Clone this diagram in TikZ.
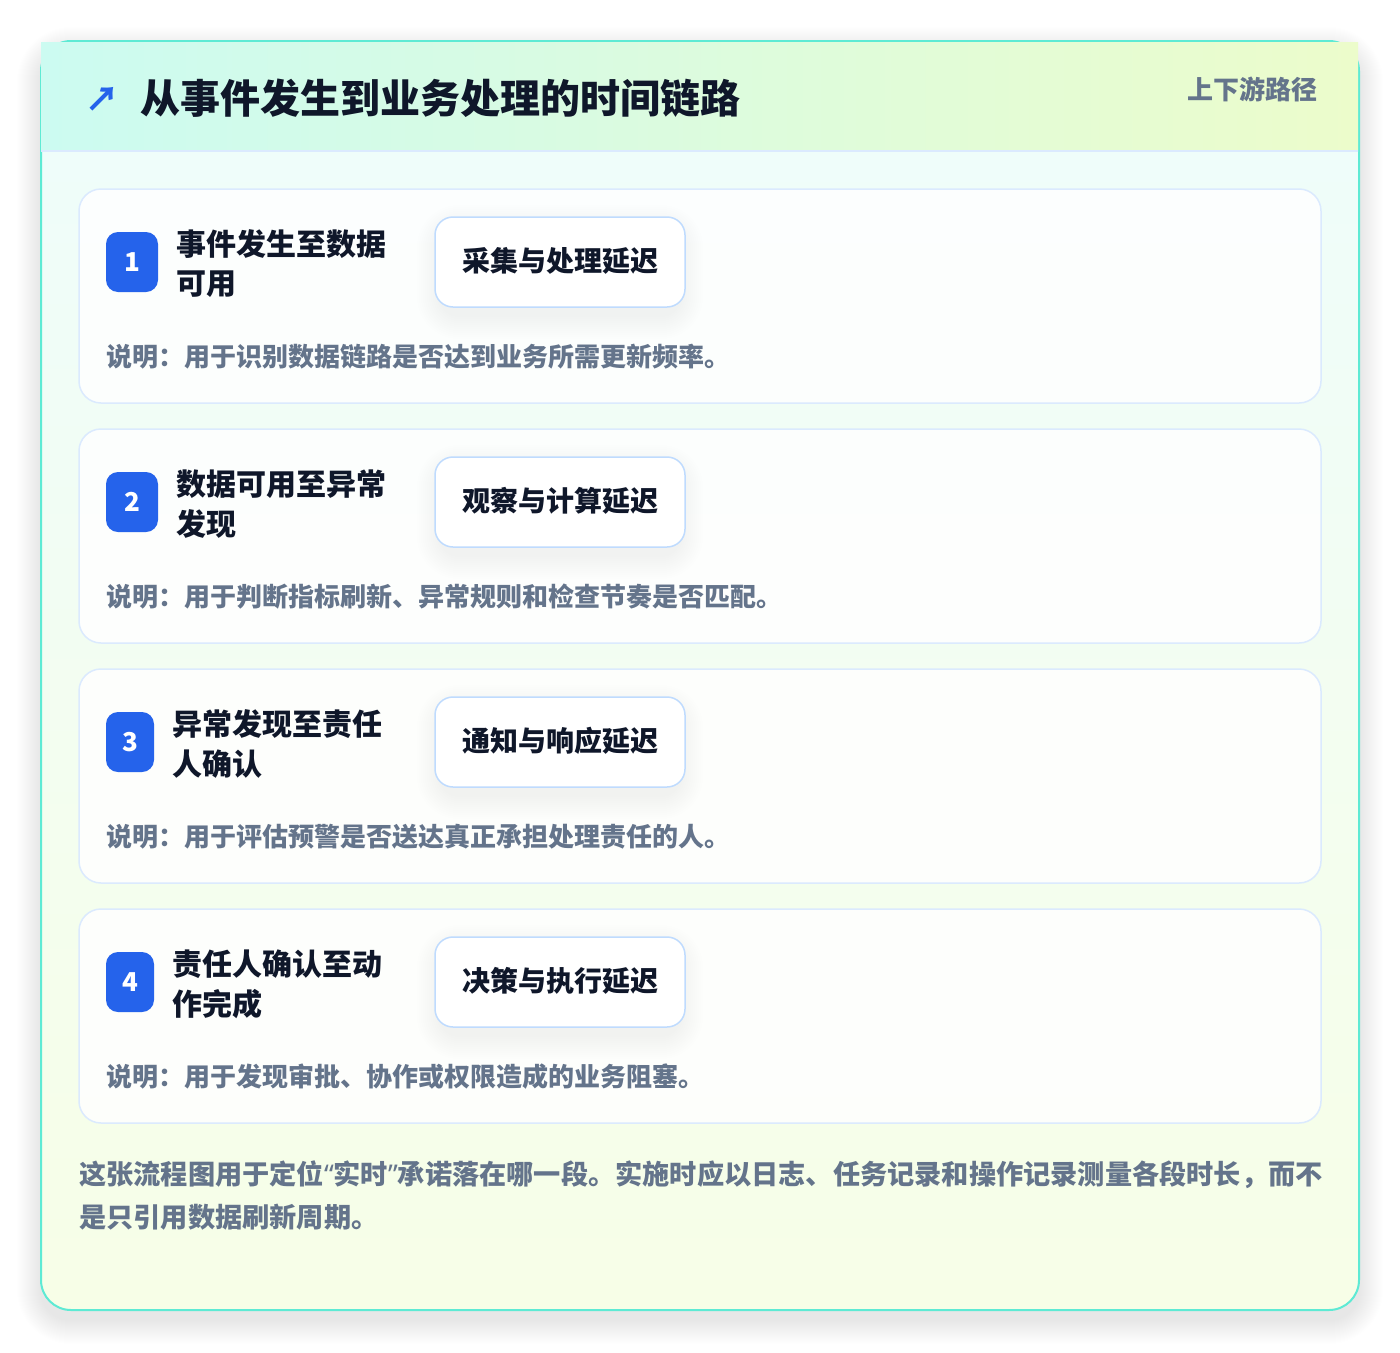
\documentclass[tikz,border=0pt]{standalone}
\usepackage{fontspec}
\setmainfont{Noto Sans CJK SC}
\newfontfamily\latinq{Noto Sans}
\definecolor{cardborder}{HTML}{5EEAD4}
\definecolor{hdleft}{HTML}{CCFBF1}
\definecolor{hdright}{HTML}{ECFCCB}
\definecolor{bodytop}{HTML}{EFFDFA}
\definecolor{bodybot}{HTML}{F7FEE7}
\definecolor{lineblue}{HTML}{DBEAFE}
\definecolor{pillblue}{HTML}{BFDBFE}
\definecolor{badgeblue}{HTML}{2563EB}
\definecolor{ink}{HTML}{0F172A}
\definecolor{slate}{HTML}{64748B}
\newcommand{\latq}[1]{{\latinq\bfseries #1}}
\tikzset{
  txt/.style={inner sep=0pt, anchor=west, font=\bfseries\fontsize{#1}{#1}\selectfont},
  steptitle/.style={txt=30, text=ink},
  desc/.style={txt=26, text=slate},
  stepcard/.style={draw=lineblue, line width=1.5pt, fill=white, fill opacity=0.85, rounded corners=22pt},
  pill/.style={draw=pillblue, line width=1.5pt, fill=white, rounded corners=18pt},
  badge/.style={fill=badgeblue, rounded corners=12pt},
}
\begin{document}
\begin{tikzpicture}[x=1pt,y=-1pt]
\useasboundingbox (0,0) rectangle (1400,1352);
\fill[white] (0,0) rectangle (1400,1352);
% outer card soft shadow
\foreach \k in {1,...,24}{
  \fill[black, opacity=0.0045, rounded corners=30pt+\k*1pt] (41-\k,41-\k+10) rectangle (1359+\k,1310+\k+10);
}
% outer card body
\path[fill=bodytop, rounded corners=30pt] (41,41) rectangle (1359,1310);
\begin{scope}
\clip[rounded corners=30pt] (41,41) rectangle (1359,1310);
\shade[top color=bodytop, bottom color=bodybot] (41,151) rectangle (1359,1310);
\end{scope}
\draw[cardborder, line width=2pt, rounded corners=30pt] (41,41) rectangle (1359,1310);
% header band
\shade[left color=hdleft, right color=hdright] (41,42) rectangle (1358,151);
\draw[lineblue, line width=1.5pt] (41,151) -- (1358,151);
\node[inner sep=0pt, anchor=center, text=badgeblue, font=\bfseries\fontsize{34}{34}\selectfont] (icon) at (102,99) {↗};
\node[txt=40, text=ink] (title) at (140,98) {从事件发生到业务处理的时间链路};
\node[inner sep=0pt, anchor=east, text=slate, font=\bfseries\fontsize{26}{26}\selectfont] (tag) at (1318,89) {上下游路径};
% step cards
\foreach \i/\la/\lb/\pl/\ds/\bw/\tx in {
  1/事件发生至数据/可用/采集与处理延迟/说明：用于识别数据链路是否达到业务所需更新频率。/52/176,
  2/数据可用至异常/发现/观察与计算延迟/说明：用于判断指标刷新、异常规则和检查节奏是否匹配。/52/176,
  3/异常发现至责任/人确认/通知与响应延迟/说明：用于评估预警是否送达真正承担处理责任的人。/48/172,
  4/责任人确认至动/作完成/决策与执行延迟/说明：用于发现审批、协作或权限造成的业务阻塞。/48/172}{
  \pgfmathsetmacro{\t}{189+240*(\i-1)}
  \path[stepcard] (79,\t) rectangle (1321,\t+214);
  \path[badge] (106,\t+43) rectangle (106+\bw,\t+103);
  \node[inner sep=0pt, text=white, font=\bfseries\fontsize{26}{26}\selectfont] (num\i) at (106+\bw/2,\t+73) {\i};
  \node[steptitle] (ta\i) at (\tx,\t+55) {\la};
  \node[steptitle] (tb\i) at (\tx,\t+95) {\lb};
  \foreach \k in {2,4,...,24}{
    \fill[black, opacity=0.0045, rounded corners=18pt+\k*1pt] (435-\k+6,\t+28-\k+12) rectangle (685+\k-6,\t+118+\k+8);
  }
  \path[pill] (435,\t+28) rectangle (685,\t+118);
  \node[inner sep=0pt, text=ink, font=\bfseries\fontsize{28}{28}\selectfont] (pill\i) at (560,\t+72) {\pl};
  \node[desc] (desc\i) at (106,\t+168) {\ds};
}
% footer
\node[txt=27.2, text=slate] (foot1) at (79,1175) {这张流程图用于定位\latq{“}实时\latq{”}承诺落在哪一段。实施时应以日志、任务记录和操作记录测量各段时长，而不};
\node[txt=27.2, text=slate] (foot2) at (79,1217) {是只引用数据刷新周期。};
\end{tikzpicture}
\end{document}
